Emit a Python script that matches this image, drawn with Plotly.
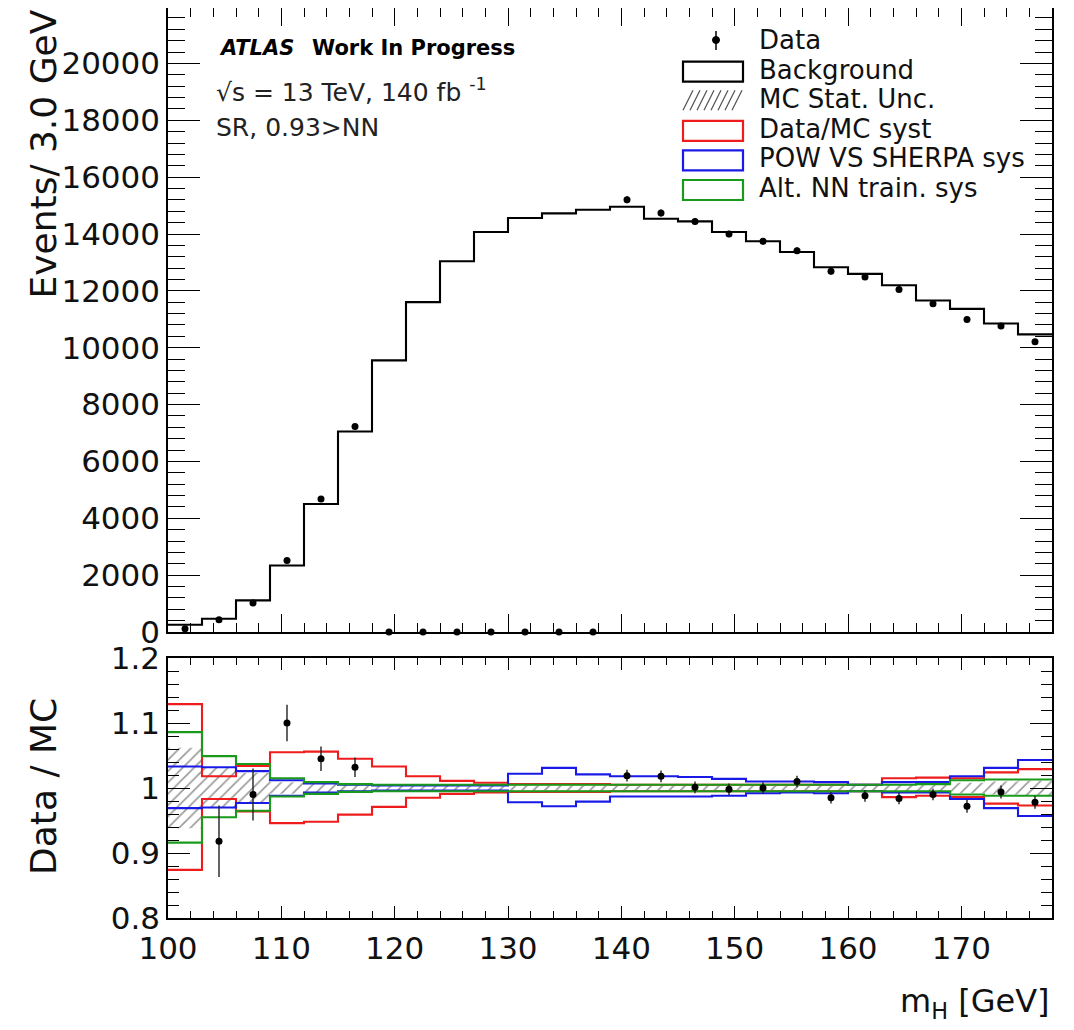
import plotly.graph_objects as go

# ---------------- data ----------------
bin_edges = [100, 103, 106, 109, 112, 115, 118, 121, 124, 127, 130, 133, 136, 139,
             142, 145, 148, 151, 154, 157, 160, 163, 166, 169, 172, 175, 178]

background = [257, 468, 1111, 2339, 4503, 7053, 9556, 11603, 13041, 14070, 14561, 14725,
              14854, 14960, 14538, 14444, 14070, 13743, 13368, 12830, 12596, 12199,
              11661, 11368, 10853, 10468]

data = [117, 433, 1018, 2515, 4678, 7228, 0, 0, 0, 0, 0, 0, 0, 15205, 14737, 14444,
        14000, 13743, 13415, 12690, 12491, 12047, 11544, 10994, 10760, 10210]
data_err = [11, 21, 32, 50, 68, 85, 0, 0, 0, 0, 0, 0, 0, 123, 121, 120, 118, 117, 116,
            113, 112, 110, 107, 105, 104, 101]

ratio = [None, 0.918, 0.990, 1.100, 1.045, 1.032, None, None, None, None, None, None,
         None, 1.019, 1.018, 1.001, 0.998, 1.000, 1.010, 0.985, 0.988, 0.984, 0.990,
         0.972, 0.994, 0.978]
ratio_err = [0, 0.055, 0.040, 0.028, 0.019, 0.015, 0, 0, 0, 0, 0, 0, 0, 0.009, 0.009,
             0.009, 0.009, 0.009, 0.009, 0.009, 0.009, 0.009, 0.009, 0.010, 0.010, 0.010]

mc_stat = [0.062, 0.031, 0.023, 0.009, 0.007, 0.006, 0.004, 0.004, 0.004, 0.004, 0.004,
           0.004, 0.004, 0.004, 0.004, 0.004, 0.004, 0.004, 0.004, 0.004, 0.004, 0.005,
           0.006, 0.008, 0.010, 0.011]

datamc_up = [1.129, 1.018, 1.034, 1.055, 1.056, 1.045, 1.033, 1.018, 1.011, 1.008, 1.006,
             1.006, 1.006, 1.005, 1.005, 1.005, 1.005, 1.005, 1.005, 1.005, 1.005, 1.015,
             1.016, 1.015, 1.024, 1.029]
datamc_dn = [0.874, 0.983, 0.964, 0.946, 0.948, 0.959, 0.971, 0.985, 0.991, 0.993, 0.994,
             0.994, 0.994, 0.995, 0.995, 0.995, 0.995, 0.995, 0.995, 0.995, 0.995, 0.986,
             0.988, 0.986, 0.976, 0.973]

pow_up = [1.033, 1.032, 1.026, 1.012, 1.007, 1.005, 1.004, 1.004, 1.004, 1.004, 1.022,
          1.031, 1.021, 1.018, 1.018, 1.017, 1.014, 1.010, 1.010, 1.009, 1.005, 1.009,
          1.009, 1.018, 1.031, 1.043]
pow_dn = [0.969, 0.970, 0.977, 0.988, 0.993, 0.995, 0.996, 0.996, 0.996, 0.996, 0.978,
          0.972, 0.979, 0.987, 0.987, 0.987, 0.988, 0.992, 0.993, 0.992, 0.995, 0.993,
          0.993, 0.983, 0.969, 0.957]

altnn_up = [1.086, 1.049, 1.037, 1.015, 1.009, 1.006, 1.005, 1.005, 1.005, 1.005, 1.005,
            1.005, 1.005, 1.005, 1.005, 1.005, 1.005, 1.005, 1.005, 1.005, 1.005, 1.005,
            1.006, 1.012, 1.013, 1.013]
altnn_dn = [0.916, 0.955, 0.965, 0.987, 0.991, 0.994, 0.995, 0.995, 0.995, 0.995, 0.995,
            0.995, 0.995, 0.995, 0.995, 0.995, 0.995, 0.995, 0.995, 0.995, 0.995, 0.995,
            0.995, 0.990, 0.988, 0.988]

legend_labels = ["Data", "Background", "MC Stat. Unc.", "Data/MC syst",
                 "POW VS SHERPA sys", "Alt. NN train. sys"]

# ---------------- helpers ----------------
centers = [(a + b) / 2 for a, b in zip(bin_edges[:-1], bin_edges[1:])]
widths = [b - a for a, b in zip(bin_edges[:-1], bin_edges[1:])]

def step_y(vals):
    return list(vals) + [vals[-1]]

FONT = "DejaVu Sans"
# page-pixel frame of the plotting area (the page body adds an 8 px offset)
OFF = 8
L, R, T, B = 168, 1052, 8, 918
W, H = R - L, B - T
FIG_W, FIG_H = 1074 - OFF, 1030 - OFF

def px(x):
    return (x - L) / W

def py(y):
    return (B - y) / H

RED, BLUE, GREEN = "#ee1c1c", "#1a1ae6", "#1a9a1a"

fig = go.Figure()

# ---------- top panel ----------
fig.add_trace(go.Scatter(x=bin_edges, y=step_y(background), mode="lines",
                         line=dict(color="black", width=2.1, shape="hv"),
                         xaxis="x", yaxis="y", showlegend=False))
fig.add_trace(go.Scatter(x=centers, y=data, mode="markers",
                         marker=dict(color="black", size=7),
                         error_y=dict(type="data", array=data_err, color="black",
                                      thickness=1.2, width=0),
                         cliponaxis=False, xaxis="x", yaxis="y", showlegend=False))

# ---------- ratio panel ----------
fig.add_trace(go.Bar(x=centers, y=[2 * s for s in mc_stat],
                     base=[1 - s for s in mc_stat], width=widths,
                     marker=dict(color="rgba(0,0,0,0)", line=dict(width=0),
                                 pattern=dict(shape="/", fgcolor="#333333",
                                              bgcolor="rgba(0,0,0,0)", size=8,
                                              solidity=0.2, fillmode="overlay")),
                     xaxis="x2", yaxis="y2", showlegend=False))

for up, dn, col in [(datamc_up, datamc_dn, RED), (pow_up, pow_dn, BLUE),
                    (altnn_up, altnn_dn, GREEN)]:
    for vals in (up, dn):
        fig.add_trace(go.Scatter(x=bin_edges, y=step_y(vals), mode="lines",
                                 line=dict(color=col, width=2.1, shape="hv"),
                                 xaxis="x2", yaxis="y2", showlegend=False))

fig.add_trace(go.Scatter(x=centers, y=ratio, mode="markers",
                         marker=dict(color="black", size=7),
                         error_y=dict(type="data", array=ratio_err, color="#222222",
                                      thickness=1.4, width=0),
                         xaxis="x2", yaxis="y2", showlegend=False))

tickfont = dict(family=FONT, size=31, color="#111111")
common = dict(ticks="inside", mirror="allticks", showline=True, linecolor="black",
              linewidth=1.5, showgrid=False, zeroline=False, tickcolor="black",
              tickwidth=1, automargin=False)
fig.update_layout(
    template="none",
    width=FIG_W, height=FIG_H,
    margin=dict(l=L - OFF, r=FIG_W - (R - OFF), t=T - OFF, b=FIG_H - (B - OFF),
                autoexpand=False),
    paper_bgcolor="white", plot_bgcolor="white",
    barmode="overlay",
    xaxis=dict(common, range=[100, 178], dtick=10, tick0=100, domain=[0, 1],
               anchor="y", showticklabels=False, ticklen=18, matches="x2",
               minor=dict(dtick=2, ticklen=9, ticks="inside", tickcolor="black",
                          showgrid=False)),
    yaxis=dict(common, domain=[py(632), 1], anchor="x", range=[0, 21950], dtick=2000,
               tick0=0, ticklen=32, tickformat="d", tickfont=tickfont,
               minor=dict(dtick=400, ticklen=17, ticks="inside", tickcolor="black",
                          showgrid=False)),
    xaxis2=dict(common, range=[100, 178], dtick=10, tick0=100, domain=[0, 1],
                anchor="y2", ticklen=12, tickfont=tickfont, ticklabelstandoff=2,
                minor=dict(dtick=2, ticklen=7, ticks="inside", tickcolor="black",
                           showgrid=False)),
    yaxis2=dict(common, domain=[0, py(658)], anchor="x2", range=[0.8, 1.2], dtick=0.1,
                tick0=0.8, ticklen=22, tickfont=tickfont,
                minor=dict(dtick=0.02, ticklen=11, ticks="inside", tickcolor="black",
                           showgrid=False)),
)

ann = []
ann.append(dict(text="Events/ 3.0 GeV", textangle=-90, x=px(43), y=py(8),
                xanchor="center", yanchor="top",
                font=dict(family=FONT, size=36, color="#111111")))
ann.append(dict(text="Data / MC", textangle=-90, x=px(43), y=py(787),
                xanchor="center", yanchor="middle",
                font=dict(family=FONT, size=36, color="#111111")))
ann.append(dict(text="m<sub>H</sub> [GeV]", x=1.0, y=py(1003), xanchor="right",
                yanchor="middle", font=dict(family=FONT, size=32, color="#111111")))
ann.append(dict(text="<b><i>ATLAS</i></b>", x=px(217), y=py(48), xanchor="left",
                yanchor="middle", font=dict(family=FONT, size=21, color="black")))
ann.append(dict(text="<b>Work In Progress</b>", x=px(310), y=py(48), xanchor="left",
                yanchor="middle", font=dict(family=FONT, size=21, color="black")))
ann.append(dict(text="√s = 13 TeV, 140 fb <sup>-1</sup>", x=px(214), y=py(90),
                xanchor="left", yanchor="middle",
                font=dict(family=FONT, size=25, color="#222222")))
ann.append(dict(text="SR, 0.93>NN", x=px(214), y=py(128), xanchor="left",
                yanchor="middle", font=dict(family=FONT, size=25, color="#222222")))

rows = [40, 69.6, 99.2, 128.8, 158.4, 188]
for lab, ry in zip(legend_labels, rows):
    ann.append(dict(text=lab, x=px(757), y=py(ry), xanchor="left", yanchor="middle",
                    font=dict(family=FONT, size=26, color="#111111")))
for a in ann:
    a.update(xref="paper", yref="paper", showarrow=False)

shapes = []
# Data legend symbol
shapes.append(dict(type="line", x0=px(716), x1=px(716), y0=py(31), y1=py(50),
                   line=dict(color="black", width=1.5)))
shapes.append(dict(type="circle", x0=px(712.5), x1=px(719.5), y0=py(43.5), y1=py(36.5),
                   fillcolor="black", line=dict(color="black", width=1)))
# boxes
for ry, col in [(rows[1], "black"), (rows[3], RED), (rows[4], BLUE), (rows[5], GREEN)]:
    shapes.append(dict(type="rect", x0=px(683), x1=px(743), y0=py(ry + 12),
                       y1=py(ry - 8), line=dict(color=col, width=2.2),
                       fillcolor="rgba(0,0,0,0)"))
# hatch legend symbol
hy0, hy1 = rows[2] + 11, rows[2] - 9
for k in range(8):
    xs = 683 + 7 * k
    shapes.append(dict(type="line", x0=px(xs), x1=px(xs + 10), y0=py(hy0), y1=py(hy1),
                       line=dict(color="#555555", width=1.3)))
for s in shapes:
    s.update(xref="paper", yref="paper")

fig.update_layout(annotations=ann, shapes=shapes)
fig.write_html("out.html")
